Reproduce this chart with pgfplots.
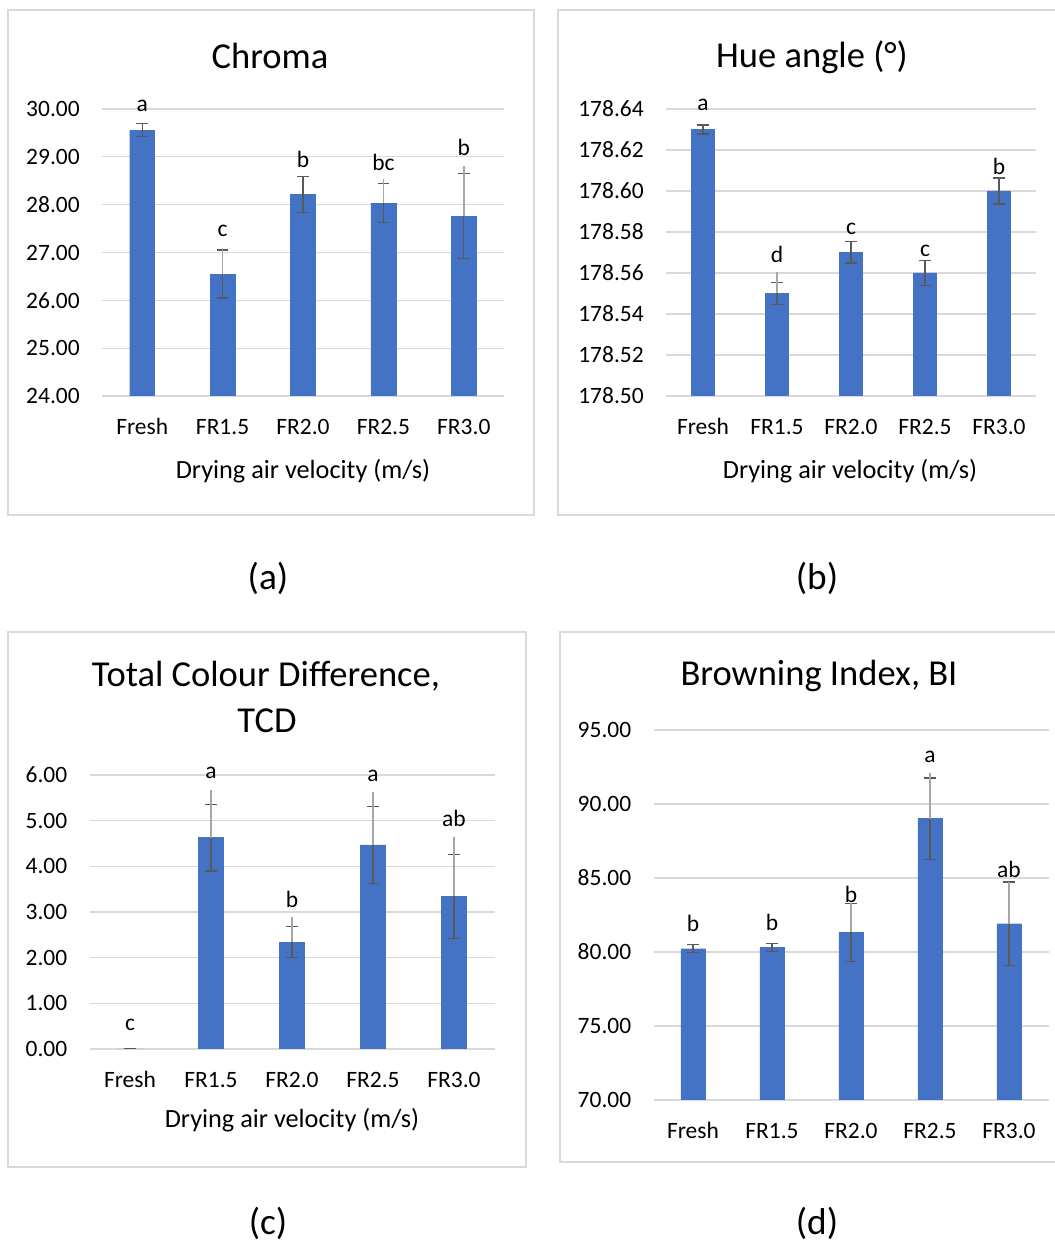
\documentclass[border=0pt]{standalone}
\usepackage{fontspec}
\setmainfont{Carlito}
\usepackage{pgfplots}
\pgfplotsset{compat=1.18}
\definecolor{barblue}{HTML}{4472C4}
\definecolor{gridc}{HTML}{D9D9D9}
\definecolor{framec}{HTML}{D9D9D9}
\definecolor{errdark}{HTML}{595959}
\definecolor{errlight}{HTML}{A6A6A6}
\newcommand\tickfont{\fontsize{17.6pt}{20pt}\selectfont}
\newcommand\labfont{\fontsize{19.7pt}{23pt}\selectfont}
\newcommand\titfont{\fontsize{27.4pt}{32pt}\selectfont}
\newcommand\subfont{\fontsize{28pt}{32pt}\selectfont}
\tikzset{lbl/.style={font=\tickfont, text=black, inner sep=0pt}}
\pgfplotsset{
  /pgf/number format/assume math mode=true,
  panel/.style={
    scale only axis, anchor=south west,
    xmin=-0.5, xmax=4.5,
    axis line style={draw=none},
    major tick length=0pt,
    ymajorgrids,
    grid style={draw=gridc, line width=0.9pt},
    xtick={0,1,2,3,4},
    xticklabels={Fresh,FR1.5,FR2.0,FR2.5,FR3.0},
    tick label style={font=\tickfont, text=black},
    xticklabel style={anchor=base, inner sep=0pt, yshift=-29.25pt},
    yticklabel style={anchor=east, inner sep=0pt, xshift=-16.5pt,
      /pgf/number format/.cd, fixed, fixed zerofill, precision=2, assume math mode=true},
    clip mode=individual,
  },
  bars/.style={ybar, bar width=0.31, fill=barblue, draw=barblue, line width=0.3pt,
    error bars/.cd, y dir=both, y explicit,
    error bar style={draw=errdark, line width=1pt, solid},
    error mark options={rotate=90, draw=errdark, line width=1pt, mark size=4.4pt, solid}},
  lighterr/.style={draw=none, mark=none, forget plot,
    error bars/.cd, y dir=plus, y explicit, error mark=none,
    error bar style={draw=errlight, line width=1.1pt, solid}},
}
\begin{document}
\begin{tikzpicture}
\useasboundingbox (0,0) rectangle (790.5pt,933.75pt);
% panel frames
\draw[framec, line width=1.1pt] (6pt,547.5pt) rectangle (400.5pt,926.25pt);
\draw[framec, line width=1.1pt] (795pt,926.25pt) -- (418.5pt,926.25pt) -- (418.5pt,547.5pt) -- (795pt,547.5pt);
\draw[framec, line width=1.1pt] (6pt,58.5pt) rectangle (394.5pt,459.75pt);
\draw[framec, line width=1.1pt] (795pt,459.75pt) -- (420pt,459.75pt) -- (420pt,62.25pt) -- (795pt,62.25pt);

% ---------------- (a) Chroma ----------------
\begin{axis}[panel, at={(76.5pt,636.75pt)}, width=301.5pt, height=215.25pt,
  ymin=24, ymax=30, ytick={24,25,26,27,28,29,30}]
\addplot[bars] coordinates {(0,29.56) +- (0,0.14) (1,26.55) +- (0,0.50) (2,28.21) +- (0,0.375) (3,28.03) +- (0,0.41) (4,27.76) +- (0,0.885)};
\addplot[lighterr] coordinates {(1,26.55) +- (0,0.55) (3,28.03) +- (0,0.50) (4,27.76) +- (0,1.05)};
\node[lbl] at (axis cs:0,30.06) {a};
\node[lbl] at (axis cs:1,27.45) {c};
\node[lbl] at (axis cs:2,28.95) {b};
\node[lbl] at (axis cs:3,28.88) {bc};
\node[lbl] at (axis cs:4,29.20) {b};
\end{axis}
\node[font=\titfont] at (202.5pt,892pt) {Chroma};
\node[font=\labfont, anchor=base] at (227.25pt,575pt) {Drying air velocity (m/s)};

% ---------------- (b) Hue angle (values plotted as value - 178.5) ----------------
\begin{axis}[panel, at={(499.5pt,636.75pt)}, width=277.5pt, height=215.25pt,
  ymin=0, ymax=0.14, ytick={0,0.02,0.04,0.06,0.08,0.10,0.12,0.14},
  yticklabels={178.50,178.52,178.54,178.56,178.58,178.60,178.62,178.64}]
\addplot[bars] coordinates {(0,0.130) +- (0,0.0022) (1,0.050) +- (0,0.0055) (2,0.070) +- (0,0.0052) (3,0.060) +- (0,0.0060) (4,0.100) +- (0,0.0064)};
\addplot[lighterr] coordinates {(1,0.050) +- (0,0.0103)};
\node[lbl] at (axis cs:0,0.142) {a};
\node[lbl] at (axis cs:1,0.069) {d};
\node[lbl] at (axis cs:2,0.0815) {c};
\node[lbl] at (axis cs:3,0.071) {c};
\node[lbl] at (axis cs:4,0.112) {b};
\end{axis}
\node[font=\titfont] at (609pt,891pt) {Hue angle (°)};
\node[font=\labfont, anchor=base] at (637.5pt,575pt) {Drying air velocity (m/s)};

% ---------------- (c) TCD ----------------
\begin{axis}[panel, at={(67.125pt,147pt)}, width=303.75pt, height=205.5pt,
  ymin=0, ymax=6, ytick={0,1,2,3,4,5,6}]
\addplot[bars] coordinates {(0,0) +- (0,0) (1,4.63) +- (0,0.73) (2,2.34) +- (0,0.34) (3,4.47) +- (0,0.845) (4,3.34) +- (0,0.925)};
\addplot[lighterr] coordinates {(1,4.63) +- (0,1.04) (2,2.34) +- (0,0.54) (3,4.47) +- (0,1.15) (4,3.34) +- (0,1.31)};
\node[lbl] at (axis cs:0,0.53) {c};
\node[lbl] at (axis cs:1,6.04) {a};
\node[lbl] at (axis cs:2,3.28) {b};
\node[lbl] at (axis cs:3,5.99) {a};
\node[lbl] at (axis cs:4,5.04) {ab};
\end{axis}
\node[font=\titfont] at (199.5pt,426.75pt) {Total Colour Difference,};
\node[font=\titfont] at (200.25pt,393pt) {TCD};
\node[font=\labfont, anchor=base] at (219pt,87.75pt) {Drying air velocity (m/s)};

% ---------------- (d) Browning index ----------------
\begin{axis}[panel, at={(490.125pt,108.75pt)}, width=296.25pt, height=277.5pt,
  ymin=70, ymax=95, ytick={70,75,80,85,90,95}]
\addplot[bars] coordinates {(0,80.22) +- (0,0.27) (1,80.32) +- (0,0.27) (2,81.33) +- (0,1.96) (3,89.01) +- (0,2.74) (4,81.91) +- (0,2.82)};
\addplot[lighterr] coordinates {(2,81.33) +- (0,1.98) (3,89.01) +- (0,3.06) (4,81.91) +- (0,2.84)};
\node[lbl] at (axis cs:0,81.91) {b};
\node[lbl] at (axis cs:1,82.03) {b};
\node[lbl] at (axis cs:2,83.87) {b};
\node[lbl] at (axis cs:3,93.18) {a};
\node[lbl] at (axis cs:4,85.61) {ab};
\end{axis}
\node[font=\titfont] at (614.25pt,426.75pt) {Browning Index, BI};

% sub-figure labels
\node[font=\subfont] at (201pt,500.25pt) {(a)};
\node[font=\subfont] at (612.75pt,500.25pt) {(b)};
\node[font=\subfont] at (201pt,16pt) {(c)};
\node[font=\subfont] at (612.75pt,16pt) {(d)};
\end{tikzpicture}
\end{document}
